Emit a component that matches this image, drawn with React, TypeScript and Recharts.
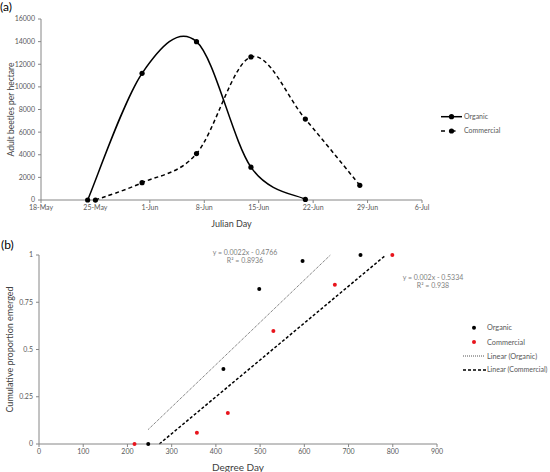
import React from 'react';
import { LineChart, Line, XAxis, YAxis, ComposedChart, Scatter } from 'recharts';

// ---------- Panel (a) data ----------
const dateTickDays = [0, 7, 14, 21, 28, 35, 42, 49];
const dateTickLabels = ['18-May', '25-May', '1-Jun', '8-Jun', '15-Jun', '22-Jun', '29-Jun', '6-Jul'];
const beetleTicks = [0, 2000, 4000, 6000, 8000, 10000, 12000, 14000, 16000];

const organicDays = [6, 13, 20, 27, 34];
const organicBeetles = [0, 11200, 14000, 2900, 50];
const commercialDays = [7, 13, 20, 27, 34, 41];
const commercialBeetles = [0, 1530, 4100, 12650, 7150, 1300];

// ---------- Panel (b) data ----------
const degreeTicks = [0, 100, 200, 300, 400, 500, 600, 700, 800, 900];
const propTicks = [0, 0.25, 0.5, 0.75, 1];

const organicDegree = [247, 417, 498, 596, 727];
const organicProp = [0, 0.397, 0.82, 0.968, 1.0];
const commercialDegree = [216, 357, 427, 530, 669, 799];
const commercialProp = [0, 0.06, 0.164, 0.598, 0.843, 1.0];

const organicEq = ['y = 0.0022x - 0.4766', 'R\u00B2 = 0.8936'];
const commercialEq = ['y = 0.002x - 0.5334', 'R\u00B2 = 0.938'];

// ---------- helpers ----------
const zip = (xs: number[], ys: number[]) => xs.map((x, i) => ({ x, y: ys[i] }));

function linearFit(xs: number[], ys: number[]) {
  const n = xs.length;
  const mx = xs.reduce((a, b) => a + b, 0) / n;
  const my = ys.reduce((a, b) => a + b, 0) / n;
  let sxy = 0;
  let sxx = 0;
  for (let i = 0; i < n; i++) {
    sxy += (xs[i] - mx) * (ys[i] - my);
    sxx += (xs[i] - mx) * (xs[i] - mx);
  }
  const m = sxy / sxx;
  return { m, b: my - m * mx };
}

function trendSegment(xs: number[], ys: number[], yMin: number, yMax: number) {
  const { m, b } = linearFit(xs, ys);
  const x0 = Math.max(Math.min(...xs), (yMin - b) / m);
  const x1 = Math.min(Math.max(...xs), (yMax - b) / m);
  return [
    { x: x0, y: m * x0 + b },
    { x: x1, y: m * x1 + b },
  ];
}

// Excel-like smoothed line (Catmull-Rom through points)
function excelSmooth(context: any) {
  let pts: number[][] = [];
  return {
    areaStart() {},
    areaEnd() {},
    lineStart() {
      pts = [];
    },
    lineEnd() {
      const n = pts.length;
      if (!n) return;
      context.moveTo(pts[0][0], pts[0][1]);
      for (let i = 0; i < n - 1; i++) {
        const p0 = pts[Math.max(0, i - 1)];
        const p1 = pts[i];
        const p2 = pts[i + 1];
        const p3 = pts[Math.min(n - 1, i + 2)];
        context.bezierCurveTo(
          p1[0] + (p2[0] - p0[0]) / 6,
          p1[1] + (p2[1] - p0[1]) / 6,
          p2[0] - (p3[0] - p1[0]) / 6,
          p2[1] - (p3[1] - p1[1]) / 6,
          p2[0],
          p2[1]
        );
      }
    },
    point(x: number, y: number) {
      pts.push([+x, +y]);
    },
  };
}

const FONT = 'Lato, "Open Sans", sans-serif';
const AXIS = '#868686';
const TICKTXT = '#595959';
const TITLE = '#404040';
const RED = '#e8141c';

const organicSeries = zip(organicDays, organicBeetles);
const commercialSeries = zip(commercialDays, commercialBeetles);
const organicPts = zip(organicDegree, organicProp);
const commercialPts = zip(commercialDegree, commercialProp);
const organicTrend = trendSegment(organicDegree, organicProp, 0, 1);
const commercialTrend = trendSegment(commercialDegree, commercialProp, 0, 1);

const tickStyle = { fontSize: 7, fill: TICKTXT, fontFamily: FONT };

const Dot = (color: string, r: number) => (props: any) => (
  <circle cx={props.cx} cy={props.cy} r={r} fill={color} stroke="none" />
);

export default function App() {
  return (
    <div style={{ position: 'absolute', left: 0, top: 0, width: 550, height: 472, background: '#fff', fontFamily: FONT }}>
      <div style={{ position: 'absolute', left: 0, top: 0 }}>
        <LineChart width={550} height={235} margin={{ top: 19, right: 128, bottom: 0, left: 0 }}>
          <XAxis
            type="number"
            dataKey="x"
            domain={[0, 49]}
            ticks={dateTickDays}
            interval={0}
            tickFormatter={(v: number) => dateTickLabels[dateTickDays.indexOf(v)]}
            height={35}
            tickSize={3}
            tickMargin={2}
            tick={tickStyle}
            axisLine={{ stroke: AXIS }}
            tickLine={{ stroke: AXIS }}
            label={{ value: 'Julian Day', position: 'insideBottom', offset: 8, style: { fontSize: 9, fill: TITLE, fontFamily: FONT } }}
          />
          <YAxis
            type="number"
            dataKey="y"
            domain={[0, 16000]}
            ticks={beetleTicks}
            interval={0}
            width={41}
            tickSize={3}
            tickMargin={3}
            tick={tickStyle}
            axisLine={{ stroke: AXIS }}
            tickLine={{ stroke: AXIS }}
            label={{
              value: 'Adult beetles per hectare',
              angle: -90,
              position: 'insideLeft',
              offset: 11,
              style: { textAnchor: 'middle', fontSize: 8.5, fill: TITLE, fontFamily: FONT },
            }}
          />
          <Line
            data={organicSeries}
            dataKey="y"
            type={excelSmooth as any}
            stroke="#000"
            strokeWidth={1.5}
            dot={Dot('#000', 2.6)}
            isAnimationActive={false}
          />
          <Line
            data={commercialSeries}
            dataKey="y"
            type={excelSmooth as any}
            stroke="#000"
            strokeWidth={1.5}
            strokeDasharray="4 3"
            dot={Dot('#000', 2.6)}
            isAnimationActive={false}
          />
        </LineChart>
      </div>

      <div style={{ position: 'absolute', left: 0, top: 235 }}>
        <ComposedChart width={550} height={237} margin={{ top: 20, right: 113, bottom: 0, left: 0 }}>
          <XAxis
            type="number"
            dataKey="x"
            domain={[0, 900]}
            ticks={degreeTicks}
            interval={0}
            height={28}
            tickSize={3}
            tickMargin={2}
            tick={tickStyle}
            axisLine={{ stroke: AXIS }}
            tickLine={{ stroke: AXIS }}
            label={{ value: 'Degree Day', position: 'insideBottom', offset: 1, style: { fontSize: 10, fill: TITLE, fontFamily: FONT } }}
          />
          <YAxis
            type="number"
            dataKey="y"
            domain={[0, 1]}
            ticks={propTicks}
            interval={0}
            width={39}
            tickSize={3}
            tickMargin={3}
            tick={tickStyle}
            axisLine={{ stroke: AXIS }}
            tickLine={{ stroke: AXIS }}
            label={{
              value: 'Cumulative proportion emerged',
              angle: -90,
              position: 'insideLeft',
              offset: 10,
              style: { textAnchor: 'middle', fontSize: 9, fill: TITLE, fontFamily: FONT },
            }}
          />
          <Line
            data={organicTrend}
            dataKey="y"
            type="linear"
            stroke="#555"
            strokeWidth={1}
            strokeDasharray="1 1"
            dot={false}
            isAnimationActive={false}
          />
          <Line
            data={commercialTrend}
            dataKey="y"
            type="linear"
            stroke="#000"
            strokeWidth={1.5}
            strokeDasharray="3 2"
            dot={false}
            isAnimationActive={false}
          />
          <Scatter data={organicPts} dataKey="y" shape={Dot('#000', 2)} isAnimationActive={false} />
          <Scatter data={commercialPts} dataKey="y" shape={Dot(RED, 2)} isAnimationActive={false} />
        </ComposedChart>
      </div>

      <svg
        width={550}
        height={472}
        style={{ position: 'absolute', left: 0, top: 0, pointerEvents: 'none' }}
        fontFamily={FONT}
      >
        <text x={0} y={11} fontSize={12} fill="#000">(a)</text>
        <text x={1} y={249} fontSize={12} fill="#000">(b)</text>

        {/* legend (a) */}
        <line x1={441} y1={116.7} x2={462} y2={116.7} stroke="#000" strokeWidth={1.5} />
        <circle cx={451.5} cy={116.7} r={2.6} fill="#000" />
        <text x={464} y={116.7} dy="0.35em" fontSize={7} fill={TICKTXT}>Organic</text>
        <line x1={441} y1={131} x2={462} y2={131} stroke="#000" strokeWidth={1.5} strokeDasharray="4 6.5" />
        <circle cx={451.5} cy={131} r={2.6} fill="#000" />
        <text x={464} y={131} dy="0.35em" fontSize={7} fill={TICKTXT}>Commercial</text>

        {/* equations (b) */}
        <text x={245} y={252.5} dy="0.35em" fontSize={7} fill="#7f7f7f" textAnchor="middle">{organicEq[0]}</text>
        <text x={245} y={261} dy="0.35em" fontSize={7} fill="#7f7f7f" textAnchor="middle">{organicEq[1]}</text>
        <text x={433} y={277.3} dy="0.35em" fontSize={7} fill="#7f7f7f" textAnchor="middle">{commercialEq[0]}</text>
        <text x={433} y={286} dy="0.35em" fontSize={7} fill="#7f7f7f" textAnchor="middle">{commercialEq[1]}</text>

        {/* legend (b) */}
        <circle cx={474} cy={327.7} r={2} fill="#000" />
        <text x={487} y={327.7} dy="0.35em" fontSize={7.3} fill={TICKTXT}>Organic</text>
        <circle cx={474} cy={342} r={2} fill={RED} />
        <text x={487} y={342} dy="0.35em" fontSize={7.3} fill={TICKTXT}>Commercial</text>
        <line x1={463} y1={356} x2={485} y2={356} stroke="#555" strokeWidth={1} strokeDasharray="1 1" />
        <text x={487} y={356} dy="0.35em" fontSize={7.3} fill={TICKTXT}>Linear (Organic)</text>
        <line x1={463} y1={370} x2={486} y2={370} stroke="#000" strokeWidth={1.5} strokeDasharray="3 2" />
        <text x={487} y={370} dy="0.35em" fontSize={7} fill={TICKTXT}>Linear (Commercial)</text>
      </svg>
    </div>
  );
}
